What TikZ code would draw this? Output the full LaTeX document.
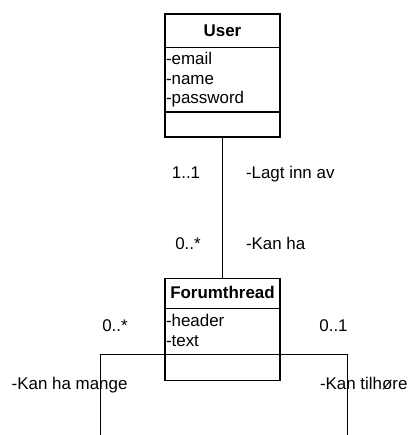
\documentclass[tikz,border=0pt]{standalone}
\usepackage{fontspec}
\setmainfont{Liberation Sans}
\begin{document}
\begin{tikzpicture}[x=1bp,y=-1bp,
  compartment/.style={draw, line width=1.2bp, minimum width=115bp, inner sep=0pt, outer sep=0pt, anchor=north west},
  txt/.style={font=\fontsize{17}{20}\selectfont, inner sep=0pt, outer sep=0pt},
  title/.style={txt, font=\fontsize{17}{20}\selectfont\bfseries, anchor=base},
  attr/.style={txt, anchor=base west},
  assoc/.style={line width=0.9bp}]
\useasboundingbox (0,0) rectangle (408,435);

% class User
\node[compartment, minimum height=33.5bp] (uTitle) at (165,14) {};
\node[compartment, minimum height=64.5bp] (uAttr) at (165,47.5) {};
\node[compartment, minimum height=25bp] (uOps) at (165,112) {};
\node[title] (uName) at (222.5,36.7) {User};
\node[attr] (uA1) at (166,65) {-email};
\node[attr] (uA2) at (166,84.5) {-name};
\node[attr] (uA3) at (166,104) {-password};

% class Forumthread
\node[compartment, minimum height=30bp] (fTitle) at (165,278.5) {};
\node[compartment, minimum height=46bp] (fAttr) at (165,308.5) {};
\node[compartment, minimum height=26bp] (fOps) at (165,354.5) {};
\node[title] (fName) at (222.5,298.3) {Forumthread};
\node[attr] (fA1) at (166,326) {-header};
\node[attr] (fA2) at (166,346) {-text};

% association User -- Forumthread
\draw[assoc] (uOps.south) -- (fTitle.north);
\node[txt, anchor=base] (m1) at (186,179) {1..1};
\node[txt, anchor=base west] (r1) at (246,179) {-Lagt inn av};
\node[txt, anchor=base] (m2) at (188,249) {0..*};
\node[txt, anchor=base west] (r2) at (246,249) {-Kan ha};

% associations leaving Forumthread sideways
\coordinate (leftEnd) at (100,435);
\coordinate (rightEnd) at (347,435);
\draw[assoc] (fAttr.south west) -- (fAttr.south west -| leftEnd) -- (leftEnd);
\draw[assoc] (fAttr.south east) -- (fAttr.south east -| rightEnd) -- (rightEnd);
\node[txt, anchor=base] (m3) at (115,331) {0..*};
\node[txt, anchor=base] (m4) at (333.5,331) {0..1};
\node[txt, anchor=base west] (r3) at (11.7,389) {-Kan ha mange};
\node[txt, anchor=base west] (r4) at (320,389) {-Kan tilhøre};
\end{tikzpicture}
\end{document}
